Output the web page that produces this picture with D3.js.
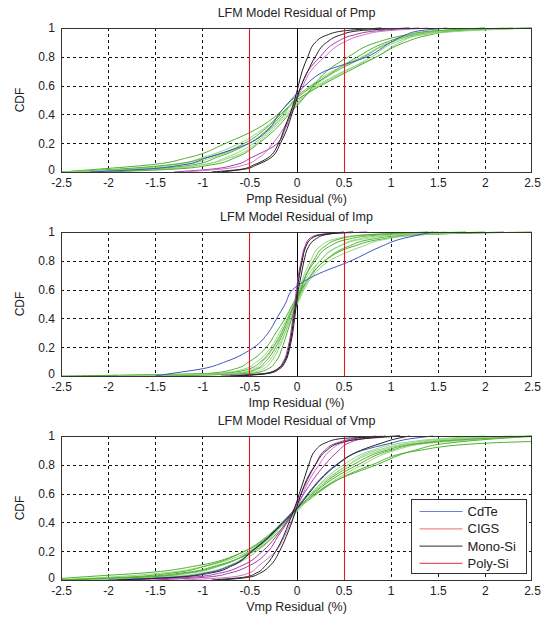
<!DOCTYPE html>
<html>
<head>
<meta charset="utf-8">
<script src="https://cdn.jsdelivr.net/npm/d3@7"></script>
<style>
  body { margin: 0; background: #fff; }
  text { font-family: "Liberation Sans", Arial, sans-serif; fill: #222; }
</style>
</head>
<body>
<svg id="chart" width="549" height="617"></svg>
<script>
// CDF levels shared by every curve, x value (residual %) read at each level
const levels = [0, 0.02, 0.05, 0.1, 0.2, 0.3, 0.4, 0.5, 0.6, 0.7, 0.8, 0.9, 0.95, 0.98, 1];
const xTicks = [-2.5, -2, -1.5, -1, -0.5, 0, 0.5, 1, 1.5, 2, 2.5];
const yTicks = [0, 0.2, 0.4, 0.6, 0.8, 1];
const limitLines = [-0.5, 0.5];

// Pmp
const pmpCdTe = [[-2.2, -1.6, -1.2, -0.95, -0.5, -0.29, -0.19, -0.06, 0.09, 0.3, 0.75, 1.0, 1.15, 1.3, 1.6]];
const pmpCIGS = [
  [-1.3, -0.9, -0.65, -0.48, -0.2, -0.12, -0.06, -0.01, 0.05, 0.12, 0.25, 0.42, 0.6, 0.85, 1.3],
  [-1.2, -0.8, -0.55, -0.4, -0.25, -0.14, -0.07, 0.0, 0.07, 0.15, 0.3, 0.5, 0.7, 0.95, 1.4]
];
const pmpMono = [
  [-0.9, -0.58, -0.45, -0.3, -0.19, -0.13, -0.07, -0.02, 0.02, 0.06, 0.12, 0.2, 0.32, 0.5, 0.9],
  [-0.8, -0.55, -0.42, -0.27, -0.17, -0.1, -0.05, 0.0, 0.05, 0.12, 0.2, 0.32, 0.46, 0.65, 1.2]
];
const pmpPoly = [
  [-2.5, -2.1, -1.55, -1.15, -0.75, -0.42, -0.2, -0.05, 0.16, 0.42, 0.72, 1.0, 1.25, 1.6, 2.5],
  [-2.5, -1.8, -1.3, -1.0, -0.6, -0.35, -0.17, 0.02, 0.22, 0.5, 0.85, 1.1, 1.3, 1.7, 2.4],
  [-2.4, -1.6, -1.1, -0.85, -0.5, -0.3, -0.15, -0.02, 0.18, 0.4, 0.65, 0.95, 1.2, 1.5, 2.3],
  [-2.3, -1.5, -1.0, -0.75, -0.45, -0.27, -0.12, 0.04, 0.24, 0.52, 0.8, 1.05, 1.3, 1.6, 2.2],
  [-2.5, -1.9, -1.35, -0.95, -0.55, -0.33, -0.17, 0.0, 0.26, 0.55, 0.85, 1.15, 1.4, 1.7, 2.5],
  [-2.2, -1.4, -1.0, -0.7, -0.42, -0.25, -0.1, 0.05, 0.2, 0.42, 0.7, 1.0, 1.2, 1.5, 2.0],
  [-2.0, -1.3, -0.9, -0.65, -0.4, -0.22, -0.08, 0.06, 0.18, 0.32, 0.55, 0.85, 1.15, 1.45, 2.0],
  [-2.5, -1.7, -1.2, -0.9, -0.5, -0.28, -0.13, -0.03, 0.15, 0.38, 0.7, 1.0, 1.3, 1.8, 2.5]
];

// Imp
const impCdTe = [[-1.5, -1.3, -1.0, -0.75, -0.45, -0.3, -0.21, -0.12, -0.04, 0.2, 0.58, 0.9, 1.1, 1.3, 1.45]];
const impCIGS = [
  [-0.8, -0.32, -0.2, -0.14, -0.09, -0.06, -0.04, -0.02, 0.0, 0.02, 0.05, 0.09, 0.13, 0.22, 0.75],
  [-0.7, -0.3, -0.18, -0.12, -0.08, -0.05, -0.03, -0.01, 0.01, 0.03, 0.06, 0.1, 0.15, 0.25, 0.6]
];
const impMono = [
  [-0.7, -0.3, -0.2, -0.13, -0.08, -0.05, -0.03, -0.01, 0.01, 0.03, 0.06, 0.1, 0.15, 0.25, 0.6],
  [-0.6, -0.28, -0.18, -0.12, -0.07, -0.04, -0.02, 0.0, 0.02, 0.05, 0.08, 0.13, 0.2, 0.3, 0.5]
];
const impPoly = [
  [-2.5, -0.9, -0.65, -0.5, -0.32, -0.22, -0.12, -0.04, 0.05, 0.15, 0.3, 0.55, 0.8, 1.2, 2.5],
  [-2.0, -0.8, -0.55, -0.42, -0.27, -0.18, -0.1, -0.03, 0.04, 0.12, 0.25, 0.45, 0.7, 1.1, 2.0],
  [-1.8, -0.6, -0.42, -0.33, -0.22, -0.14, -0.08, -0.02, 0.04, 0.1, 0.2, 0.35, 0.55, 0.9, 1.8],
  [-1.5, -0.5, -0.35, -0.27, -0.18, -0.12, -0.07, -0.02, 0.03, 0.08, 0.15, 0.25, 0.4, 0.7, 1.5],
  [-2.2, -0.75, -0.5, -0.38, -0.25, -0.16, -0.09, -0.02, 0.06, 0.16, 0.3, 0.6, 0.9, 1.3, 2.2],
  [-1.6, -0.55, -0.4, -0.3, -0.2, -0.12, -0.06, 0.0, 0.07, 0.15, 0.25, 0.45, 0.65, 1.0, 1.6],
  [-1.4, -0.45, -0.3, -0.22, -0.15, -0.1, -0.05, 0.0, 0.05, 0.1, 0.18, 0.3, 0.45, 0.75, 1.4],
  [-1.9, -0.65, -0.45, -0.36, -0.24, -0.15, -0.08, 0.01, 0.08, 0.18, 0.35, 0.7, 0.95, 1.3, 2.0]
];

// Vmp
const vmpCdTe = [[-2.0, -1.3, -0.95, -0.7, -0.48, -0.3, -0.15, 0.0, 0.12, 0.25, 0.42, 0.7, 1.0, 1.2, 1.45]];
const vmpCIGS = [
  [-1.5, -0.95, -0.7, -0.5, -0.3, -0.2, -0.1, -0.02, 0.05, 0.12, 0.2, 0.3, 0.42, 0.6, 0.85],
  [-1.2, -0.7, -0.5, -0.4, -0.22, -0.13, -0.06, 0.01, 0.07, 0.14, 0.24, 0.36, 0.48, 0.65, 0.9],
  [-1.8, -1.1, -0.8, -0.58, -0.36, -0.22, -0.11, -0.02, 0.08, 0.18, 0.3, 0.45, 0.55, 0.7, 0.95]
];
const vmpMono = [
  [-0.9, -0.55, -0.42, -0.33, -0.22, -0.14, -0.08, -0.02, 0.03, 0.08, 0.13, 0.2, 0.3, 0.45, 1.1],
  [-0.8, -0.5, -0.38, -0.28, -0.18, -0.11, -0.05, 0.0, 0.05, 0.11, 0.2, 0.32, 0.45, 0.7, 1.1],
  [-1.9, -1.25, -0.9, -0.68, -0.47, -0.29, -0.14, 0.01, 0.13, 0.26, 0.43, 0.68, 0.9, 1.05, 1.2]
];
const vmpPoly = [
  [-2.7, -2.3, -1.6, -1.05, -0.55, -0.3, -0.12, 0.03, 0.22, 0.45, 0.8, 1.3, 2.0, 3.5, 4.5],
  [-2.6, -2.0, -1.4, -0.95, -0.5, -0.28, -0.12, 0.02, 0.2, 0.42, 0.7, 1.05, 1.4, 2.0, 2.5],
  [-2.5, -1.7, -1.2, -0.85, -0.45, -0.25, -0.1, 0.02, 0.17, 0.35, 0.6, 0.95, 1.3, 1.8, 2.5],
  [-2.3, -1.5, -1.1, -0.8, -0.5, -0.3, -0.15, 0.0, 0.15, 0.32, 0.55, 0.85, 1.2, 1.6, 2.3],
  [-2.4, -1.6, -1.15, -0.82, -0.48, -0.28, -0.13, 0.02, 0.18, 0.38, 0.65, 1.0, 1.35, 1.9, 2.5],
  [-2.0, -1.3, -0.95, -0.72, -0.45, -0.27, -0.12, 0.03, 0.16, 0.3, 0.5, 0.8, 1.1, 1.5, 2.0],
  [-2.5, -1.8, -1.3, -0.95, -0.55, -0.32, -0.15, 0.0, 0.2, 0.45, 0.85, 1.25, 1.6, 2.1, 2.6],
  [-2.2, -1.4, -1.0, -0.7, -0.42, -0.24, -0.1, 0.04, 0.18, 0.34, 0.55, 0.9, 1.25, 1.7, 2.4]
];

const legendNames = ["CdTe", "CIGS", "Mono-Si", "Poly-Si"];
const legendColors = ["#6f7fd6", "#f28a8a", "#555555", "#e8595c"];

const panels = [
  { title: "LFM Model Residual of Pmp", xlabel: "Pmp Residual (%)", top: 28,
    cdte: pmpCdTe, cigs: pmpCIGS, mono: pmpMono, poly: pmpPoly },
  { title: "LFM Model Residual of Imp", xlabel: "Imp Residual (%)", top: 232,
    cdte: impCdTe, cigs: impCIGS, mono: impMono, poly: impPoly },
  { title: "LFM Model Residual of Vmp", xlabel: "Vmp Residual (%)", top: 436,
    cdte: vmpCdTe, cigs: vmpCIGS, mono: vmpMono, poly: vmpPoly, legend: true }
];

const left = 61, right = 532, plotH = 144;
const svg = d3.select("#chart");
const x = d3.scaleLinear().domain([-2.5, 2.5]).range([left, right]);
const fmt = (d) => String(d);
const px = (v) => Math.round(v) + 0.5;

panels.forEach((p, i) => drawPanel(p, i));

// Draws one CDF panel
function drawPanel(p, i) {
    const y = d3.scaleLinear().domain([0, 1]).range([p.top + plotH, p.top]);
    const g = svg.append("g");

    g.append("clipPath").attr("id", "clip" + i)
     .append("rect").attr("x", left).attr("y", p.top - 1)
     .attr("width", right - left).attr("height", plotH + 2);

    // dashed grid (0 and +-0.5 get their own solid lines)
    const gridX = xTicks.filter((d) => Math.abs(d) !== 0.5 && d !== 0 && Math.abs(d) !== 2.5);
    g.selectAll("line.gx").data(gridX).enter().append("line").attr("class", "gx")
     .attr("x1", (d) => px(x(d))).attr("x2", (d) => px(x(d)))
     .attr("y1", p.top).attr("y2", p.top + plotH)
     .attr("stroke", "#111").attr("stroke-dasharray", "3,3");
    g.selectAll("line.gy").data(yTicks.slice(1, -1)).enter().append("line").attr("class", "gy")
     .attr("x1", left).attr("x2", right)
     .attr("y1", (d) => px(y(d))).attr("y2", (d) => px(y(d)))
     .attr("stroke", "#111").attr("stroke-dasharray", "3,3");

    // zero line
    g.append("line").attr("x1", px(x(0))).attr("x2", px(x(0)))
     .attr("y1", p.top).attr("y2", p.top + plotH).attr("stroke", "#000");

    const line = d3.line()
                   .x((d) => x(d[0]))
                   .y((d) => y(d[1]))
                   .curve(d3.curveMonotoneY);
    const curves = g.append("g").attr("clip-path", `url(#clip${i})`);
    const draw = (set, colorFn) => {
        set.forEach((xs, k) => {
            curves.append("path")
                  .attr("d", line(xs.map((v, j) => [v, levels[j]])))
                  .attr("fill", "none")
                  .attr("stroke", colorFn(k))
                  .attr("stroke-width", 1);
        });
    };
    draw(p.poly, (k) => k % 2 ? "#93d383" : "#4fb02e");
    draw(p.cdte, () => "#3f55c4");
    draw(p.cigs, (k) => k % 2 ? "#d070c8" : "#a83aa8");
    draw(p.mono, () => "#222");

    // +-0.5 % limit lines, on top of the curves
    limitLines.forEach((d) => {
        g.append("line").attr("class", "lim")
         .attr("x1", px(x(d))).attr("x2", px(x(d)))
         .attr("y1", p.top).attr("y2", p.top + plotH)
         .style("stroke", "#e8161b").style("stroke-width", 1.1);
    });

    // axes
    g.append("g").attr("transform", `translate(0,${p.top + plotH})`)
     .call(d3.axisBottom(x).tickValues(xTicks).tickFormat(fmt).tickSize(0).tickPadding(6))
     .call((a) => a.select(".domain").remove())
     .selectAll("text").style("font-size", "12px").attr("fill", "#222");
    g.append("g").attr("transform", `translate(${left},0)`)
     .call(d3.axisLeft(y).tickValues(yTicks).tickFormat(fmt).tickSize(0).tickPadding(6))
     .call((a) => a.select(".domain").remove())
     .selectAll("text").style("font-size", "12px").attr("fill", "#222")
     .attr("dy", (d) => d === 0 ? "0.15em" : "0.32em");

    g.append("rect").attr("x", left + 0.5).attr("y", p.top + 0.5)
     .attr("width", right - left - 1).attr("height", plotH)
     .attr("fill", "none").attr("stroke", "#333");

    g.append("text").attr("x", (left + right) / 2).attr("y", p.top - 11)
     .attr("text-anchor", "middle").style("font-size", "12.5px").text(p.title);
    g.append("text").attr("x", (left + right) / 2).attr("y", p.top + plotH + 31)
     .attr("text-anchor", "middle").style("font-size", "12.5px").text(p.xlabel);
    g.append("text")
     .attr("transform", `translate(24,${p.top + plotH / 2}) rotate(-90)`)
     .attr("text-anchor", "middle").style("font-size", "12px").text("CDF");

    if (p.legend) drawLegend(g);
}

// Legend box inside the last panel
function drawLegend(g) {
    const lg = g.append("g").attr("transform", "translate(411.5,499.5)");
    lg.append("rect").attr("width", 115).attr("height", 74)
      .attr("fill", "#fff").attr("stroke", "#333");
    legendNames.forEach((name, k) => {
        const cy = 12 + k * 17.3;
        lg.append("line").attr("x1", 8).attr("x2", 51)
          .attr("y1", cy).attr("y2", cy)
          .attr("stroke", legendColors[k]).attr("stroke-width", 1.2);
        lg.append("text").attr("x", 56).attr("y", cy + 4.5)
          .style("font-size", "13px").text(name);
    });
}
</script>
</body>
</html>
